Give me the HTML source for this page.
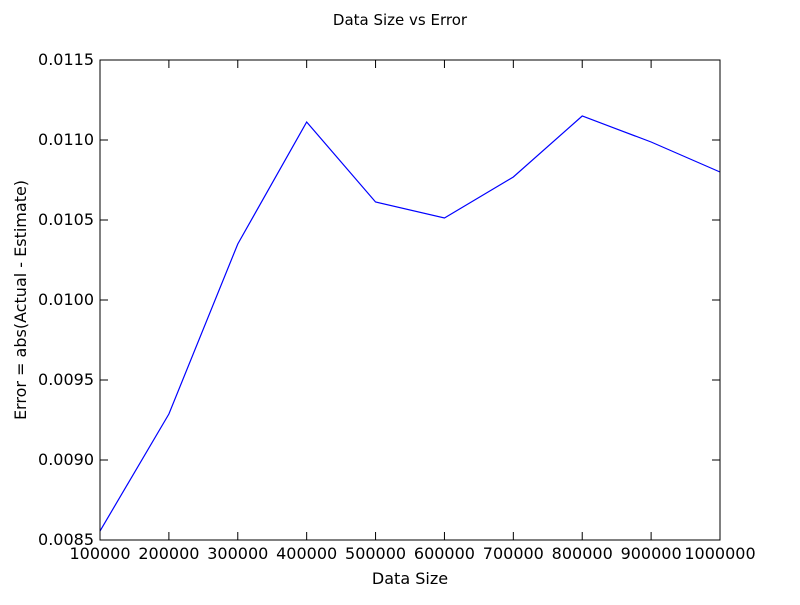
<!DOCTYPE html>
<html><head><meta charset="utf-8"><style>
body{margin:0;background:#fff;}
svg text{font-family:"DejaVu Sans","Liberation Sans",sans-serif;}
</style></head><body>
<svg id="chart" width="800" height="600" xmlns="http://www.w3.org/2000/svg">
<rect width="800" height="600" fill="#fff"/>
<text x="400" y="25" text-anchor="middle" font-size="15">Data Size vs Error</text>
<text x="410" y="584" text-anchor="middle" font-size="16">Data Size</text>
<text transform="translate(26,300) rotate(-90)" text-anchor="middle" font-size="16">Error = abs(Actual - Estimate)</text>
<g id="ticks"></g>
<polyline id="line" fill="none" stroke="#0000ff" stroke-width="1.2"/>
<rect x="100" y="60" width="620" height="480" fill="none" stroke="#000" stroke-width="1"/>
</svg>
<script>
const sizes=[100000,200000,300000,400000,500000,600000,700000,800000,900000,1000000];
const errors=[0.008556,0.0092875,0.01035,0.0111125,0.0106125,0.0105125,0.0107688,0.01115,0.0109875,0.0108];
const xTicks=[100000,200000,300000,400000,500000,600000,700000,800000,900000,1000000];
const yTicks=[0.0085,0.0090,0.0095,0.0100,0.0105,0.0110,0.0115];
const yLabels=["0.0085","0.0090","0.0095","0.0100","0.0105","0.0110","0.0115"];
const X0=100,X1=720,Y0=540,Y1=60;
function xs(v){return X0+(v-100000)/900000*(X1-X0);}
function ys(v){return Y0-(v-0.0085)/0.003*(Y0-Y1);}
const NS="http://www.w3.org/2000/svg";
const g=document.getElementById('ticks');
function mk(t,a){const e=document.createElementNS(NS,t);for(const k in a)e.setAttribute(k,a[k]);return e;}
xTicks.forEach(v=>{const x=xs(v);
 const t1=mk('line',{x1:x,x2:x,y1:540,y2:532,stroke:'#000'});
 
 
 g.appendChild(t1);
 const t2=mk('line',{x1:x,x2:x,y1:60,y2:68,stroke:'#000'});
 
 
 g.appendChild(t2);
 const tx=mk('text',{x:x,y:559,'text-anchor':'middle','font-size':16});
 
 
 tx.textContent=v;g.appendChild(tx);});
yTicks.forEach((v,i)=>{const y=ys(v);
 const t1=mk('line',{x1:100,x2:108,y1:y,y2:y,stroke:'#000'});
 
 
 g.appendChild(t1);
 const t2=mk('line',{x1:712,x2:720,y1:y,y2:y,stroke:'#000'});
 
 
 g.appendChild(t2);
 const tx=mk('text',{x:94,y:y+5,'text-anchor':'end','font-size':16});
 
 
 tx.textContent=yLabels[i];g.appendChild(tx);});
document.getElementById('line').setAttribute('points',sizes.map((s,i)=>xs(s)+','+ys(errors[i])).join(' '));
</script>
</body></html>
